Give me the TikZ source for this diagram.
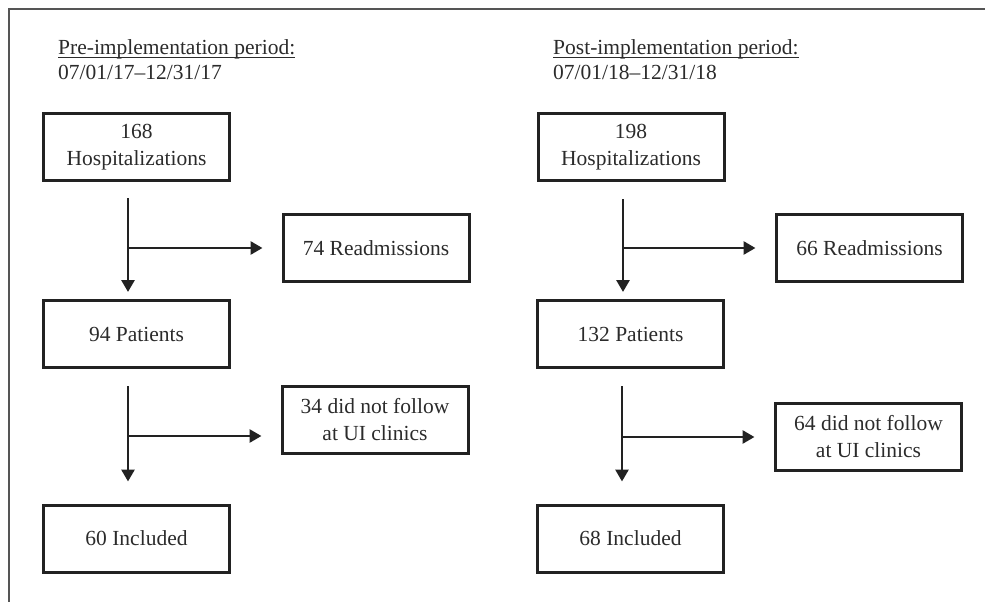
\documentclass[tikz,border=0pt]{standalone}
\usepackage{fontspec}
\setmainfont{Liberation Serif}
\usetikzlibrary{arrows.meta}
\definecolor{txt}{HTML}{2B2B2B}
\definecolor{ln}{HTML}{222222}
\definecolor{frame}{HTML}{555555}
\tikzset{
  box/.style={draw=ln, line width=3pt, minimum width=186pt, minimum height=67pt,
    inner sep=0pt, align=center, text=txt,
    font=\fontsize{21.5}{27}\selectfont},
  head/.style={anchor=base west, inner sep=0pt, text=txt,
    font=\fontsize{21.5}{25}\selectfont},
  uline/.style={draw=txt, line width=1pt},
  arr/.style={draw=ln, line width=2.8pt,
    -{Triangle[length=12pt,width=13pt]}},
}
\begin{document}
\begin{tikzpicture}[x=1pt,y=-1pt]
\useasboundingbox (0,0) rectangle (985,602);
\fill[white] (0,0) rectangle (985,602);
% outer frame
\draw[frame, line width=2pt] (9,602) -- (9,9) -- (985,9);

% headers
\node[head] (hL1) at (58,55) {Pre-implementation period:};
\node[head] (hL2) at (58,80) {07/01/17–12/31/17};
\node[head] (hR1) at (553,55) {Post-implementation period:};
\node[head] (hR2) at (553,80) {07/01/18–12/31/18};
\draw[uline] ([yshift=-3pt]hL1.base west) -- ([yshift=-3pt]hL1.base east);
\draw[uline] ([yshift=-3pt]hR1.base west) -- ([yshift=-3pt]hR1.base east);

% left column
\node[box] (L1) at (136.5,147) {168\\Hospitalizations};
\node[box] (L2) at (136.5,334) {94 Patients};
\node[box] (L3) at (136.5,538.5) {60 Included};
\node[box] (LR1) at (376,248) {74 Readmissions};
\node[box] (LR2) at (375,420) {34 did not follow\\at UI clinics};

% right column
\node[box] (R1) at (631,147) {198\\Hospitalizations};
\node[box] (R2) at (630.5,334) {132 Patients};
\node[box] (R3) at (630.5,538.5) {68 Included};
\node[box] (RR1) at (869.5,248) {66 Readmissions};
\node[box] (RR2) at (868.5,437) {64 did not follow\\at UI clinics};

% connector coordinates
\coordinate (xL) at (128,0);
\coordinate (xRa) at (623,0);
\coordinate (xRb) at (622,0);
\coordinate (bL1) at (128,248);
\coordinate (bL2) at (128,436);
\coordinate (bR1) at (623,248);
\coordinate (bR2) at (622,437);

% left arrows
\draw[arr, shorten <=16pt, shorten >=7pt] (L1.south -| xL) -- (L2.north -| xL);
\draw[arr, shorten >=19pt] (bL1) -- (bL1 -| LR1.west);
\draw[arr, shorten <=17pt, shorten >=22pt] (L2.south -| xL) -- (L3.north -| xL);
\draw[arr, shorten >=19pt] (bL2) -- (bL2 -| LR2.west);

% right arrows
\draw[arr, shorten <=17pt, shorten >=7pt] (R1.south -| xRa) -- (R2.north -| xRa);
\draw[arr, shorten >=19.5pt] (bR1) -- (bR1 -| RR1.west);
\draw[arr, shorten <=17pt, shorten >=22pt] (R2.south -| xRb) -- (R3.north -| xRb);
\draw[arr, shorten >=19.5pt] (bR2) -- (bR2 -| RR2.west);
\end{tikzpicture}
\end{document}
